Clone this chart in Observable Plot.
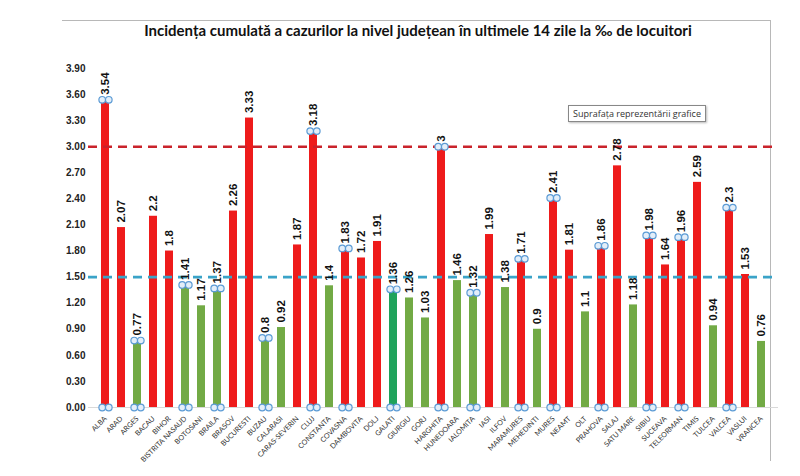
<!DOCTYPE html>
<html>
<head>
<meta charset="utf-8">
<script src="https://cdn.jsdelivr.net/npm/d3@7"></script>
<script src="https://cdn.jsdelivr.net/npm/@observablehq/plot@0.6"></script>
<style>
  html, body { margin: 0; padding: 0; background: #fff; }
  #wrap { position: relative; width: 800px; height: 476px; overflow: hidden; }
  #frame { position: absolute; left: 62px; top: 20px; width: 708px; height: 440px;
           border-top: 1px solid #b8b8b8; border-right: 1px solid #b8b8b8; }
  #title { position: absolute; left: 0; top: 21px; width: 836px; text-align: center;
           font-family: Lato, "Open Sans", sans-serif; font-weight: bold; font-size: 15px; color: #111; }
  #chart { position: absolute; left: 0; top: 45px; }
  #tip { position: absolute; left: 568px; top: 105px; padding: 1px 4px; border: 1px solid #888;
         background: #fff; font-family: "Open Sans", sans-serif; font-size: 9px; color: #333;
         box-shadow: 1px 1px 2px #bbb; }
</style>
</head>
<body>
<div id="wrap">
  <div id="frame"></div>
  <div id="title">Incidența cumulată a cazurilor la nivel județean în ultimele 14 zile la ‰ de locuitori</div>
  <div id="chart"></div>
  <div id="tip">Suprafața reprezentării grafice</div>
</div>
<script>
const counties = ["ALBA","ARAD","ARGES","BACAU","BIHOR","BISTRITA NASAUD","BOTOSANI","BRAILA","BRASOV","BUCURESTI","BUZAU","CALARASI","CARAS-SEVERIN","CLUJ","CONSTANTA","COVASNA","DAMBOVITA","DOLJ","GALATI","GIURGIU","GORJ","HARGHITA","HUNEDOARA","IALOMITA","IASI","ILFOV","MARAMURES","MEHEDINTI","MURES","NEAMT","OLT","PRAHOVA","SALAJ","SATU MARE","SIBIU","SUCEAVA","TELEORMAN","TIMIS","TULCEA","VALCEA","VASLUI","VRANCEA"];
const values = [3.54,2.07,0.77,2.2,1.8,1.41,1.17,1.37,2.26,3.33,0.8,0.92,1.87,3.18,1.4,1.83,1.72,1.91,1.36,1.26,1.03,3,1.46,1.32,1.99,1.38,1.71,0.9,2.41,1.81,1.1,1.86,2.78,1.18,1.98,1.64,1.96,2.59,0.94,2.3,1.53,0.76];
const yTicks = [0,0.3,0.6,0.9,1.2,1.5,1.8,2.1,2.4,2.7,3.0,3.3,3.6,3.9];
const thresholdHigh = 3.0;
const thresholdLow = 1.5;
const highlighted = ["GALATI"];
const handles = ["ALBA","ARGES","BISTRITA NASAUD","BRAILA","BUZAU","CLUJ","COVASNA","GALATI","HARGHITA","IALOMITA","MARAMURES","MURES","PRAHOVA","SIBIU","TELEORMAN","VALCEA"];

const RED = "#ee1b1b", GREEN = "#72aa45", DARKGREEN = "#1fa35c";
const data = counties.map((c, i) => ({
  county: c, value: values[i],
  color: highlighted.includes(c) ? DARKGREEN : (values[i] > thresholdLow ? RED : GREEN)
}));
const handleData = data.filter(d => handles.includes(d.county));
const handleStyle = {r: 3.3, stroke: "#5b9bd5", fill: "#e3eef9", strokeWidth: 1.2};

const chart = Plot.plot({
  width: 800,
  height: 431,
  marginLeft: 88,
  marginRight: 22,
  marginTop: 23,
  marginBottom: 69,
  style: {fontFamily: "'Liberation Sans', Arial, sans-serif", background: "transparent", overflow: "visible"},
  x: {domain: counties, paddingInner: 0.52, paddingOuter: 0.55, label: null},
  y: {domain: [0, 3.9], label: null},
  marks: [
    Plot.ruleY([0], {stroke: "#d9d9d9"}),
    Plot.barY(data, {x: "county", y: "value", fill: "color"}),
    Plot.ruleY([thresholdHigh], {stroke: "#c9232b", strokeWidth: 2.6, strokeDasharray: "9,6"}),
    Plot.ruleY([thresholdLow], {stroke: "#3aa3c8", strokeWidth: 2.6, strokeDasharray: "9,6"}),
    Plot.dot(handleData, {x: "county", y: "value", dx: -3.3, ...handleStyle}),
    Plot.dot(handleData, {x: "county", y: "value", dx: 3.3, ...handleStyle}),
    Plot.dot(handleData, {x: "county", y: () => 0, dx: -3.3, ...handleStyle}),
    Plot.dot(handleData, {x: "county", y: () => 0, dx: 3.3, ...handleStyle}),
    Plot.text(data, {x: "county", y: "value", text: d => String(d.value), rotate: -90, textAnchor: "start",
      dy: -5, fontSize: 11.5, fontWeight: "bold", fill: "#111"}),
    Plot.axisY({ticks: yTicks, tickFormat: d3.format(".2f"), tickSize: 0, tickPadding: 3,
      fontSize: 10, fontWeight: "bold", fill: "#222"}),
    Plot.axisX({tickRotate: -45, tickSize: 0, tickPadding: 10, fontSize: 7.2,
      fontFamily: "Lato, sans-serif", fill: "#333", label: null})
  ]
});
document.getElementById("chart").appendChild(chart);
</script>
</body>
</html>
